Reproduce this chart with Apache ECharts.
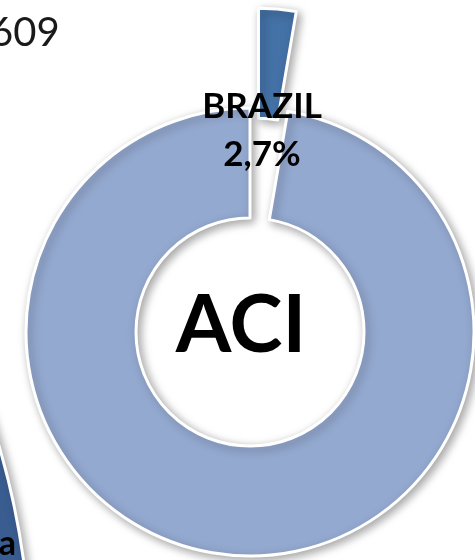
<!DOCTYPE html>
<html>
<head>
<meta charset="utf-8">
<title>ACI</title>
<script src="https://cdn.jsdelivr.net/npm/echarts@6/dist/echarts.min.js"></script>
<style>
    html, body {
        margin: 0;
        padding: 0;
        background: #fff;
    }
    #container {
        width: 475px;
        height: 560px;
    }
</style>
</head>
<body>
<div id="container"></div>
<script>
// dados do grafico
let categories = ["BRAZIL", "OUTROS"];
let values = [2.7, 97.3];
let centerText = "ACI";

// grafico vizinho, cortado pela moldura
let sideCategories = ["a"];
let sideValues = [100];
let cornerText = "609";

buildDonut();

/**
 * formata 2.7 -> 2,7%
 */
function fmtPercent(v) {
    return v.toFixed(1).replace(".", ",") + "%";
}

function buildDonut() {
    var dom = document.getElementById("container");
    var myChart = echarts.init(dom);
    var colors = ["#4472a7", "#94a9d0"];

    var data = [];
    for (let i = 0; i < categories.length; i++) {
        data.push({
            name: categories[i],
            value: values[i],
            selected: i === 0,
            itemStyle: {color: colors[i]},
            label: i === 0 ? {
                show: true,
                position: "inside",
                rotate: 0,
                formatter: function (p) {
                    return p.name + "\n" + fmtPercent(p.value);
                },
                fontFamily: "Lato",
                fontWeight: "bold",
                fontSize: 35,
                lineHeight: 48,
                color: "#000"
            } : {show: false}
        });
    }

    var sideData = [];
    for (let i = 0; i < sideCategories.length; i++) {
        sideData.push({name: sideCategories[i], value: sideValues[i]});
    }

    var shadow = {
        borderColor: "#fff",
        borderWidth: 3,
        shadowBlur: 10,
        shadowOffsetX: 3,
        shadowOffsetY: 3,
        shadowColor: "rgba(0, 0, 0, 0.35)"
    };

    var option = {
        animation: false,
        graphic: [
            {
                type: "text",
                z: 100,
                style: {
                    text: centerText,
                    x: 241,
                    y: 326,
                    textAlign: "center",
                    textVerticalAlign: "middle",
                    font: "bold 80px Lato",
                    fill: "#000"
                }
            },
            {
                type: "text",
                z: 100,
                style: {
                    text: cornerText,
                    x: -10,
                    y: 13,
                    textAlign: "left",
                    textVerticalAlign: "top",
                    font: "40px Lato",
                    fill: "#1a1a1a"
                }
            },
            {
                type: "text",
                z: 100,
                style: {
                    text: sideData[0].name,
                    x: 16,
                    y: 561,
                    textAlign: "right",
                    textVerticalAlign: "bottom",
                    font: "bold 34px Lato",
                    fill: "#000"
                }
            }
        ],
        series: [
            {
                type: "pie",
                name: "ACI",
                center: [250, 332],
                radius: [114, 224],
                startAngle: 90,
                selectedMode: "single",
                selectedOffset: 100,
                emphasis: {disabled: true},
                labelLine: {show: false},
                labelLayout: function (p) {
                    if (p.dataIndex === 0) {
                        return {dx: -11, dy: 70};
                    }
                    return {};
                },
                itemStyle: shadow,
                data: data
            },
            {
                type: "pie",
                name: "side",
                center: [-769, 670],
                radius: [400, 800],
                silent: true,
                label: {show: false},
                labelLine: {show: false},
                itemStyle: Object.assign({}, shadow, {color: "#3a5d91"}),
                data: sideData
            }
        ]
    };

    if (option && typeof option === "object") {
        myChart.setOption(option, true);
    }
}
</script>
</body>
</html>
